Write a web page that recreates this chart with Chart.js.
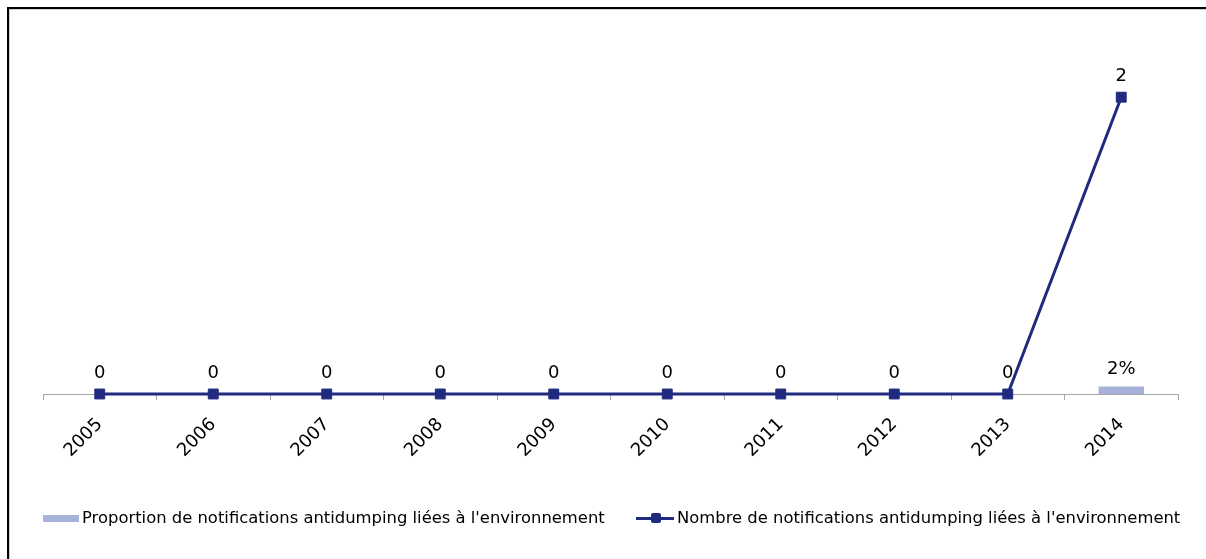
<!DOCTYPE html>
<html lang="fr">
<head>
<meta charset="utf-8">
<title>Notifications antidumping liées à l'environnement</title>
<script src="https://cdn.jsdelivr.net/npm/chart.js@4"></script>
<style>
  html, body { margin: 0; padding: 0; background: #fff; overflow: hidden; }
  body { width: 1206px; height: 559px; position: relative; font-family: "DejaVu Sans", Verdana, sans-serif; }
  .edge-top { position: absolute; left: 7px; top: 7px; width: 1199px; height: 2px; background: #000; }
  .edge-left { position: absolute; left: 7px; top: 7px; width: 2px; height: 552px; background: #000; }
  .edge-in-top { position: absolute; left: 9px; top: 9px; width: 1197px; height: 1px; background: #d0d0d0; }
  .edge-in-left { position: absolute; left: 9px; top: 9px; width: 1px; height: 550px; background: #d0d0d0; }
  #wrap { position: absolute; left: 0; top: 0; width: 1206px; height: 559px; }
  .legend { position: absolute; top: 508px; left: 0; width: 1206px; height: 20px; font-size: 16.4px; color: #000; }
  .item { position: absolute; top: 0; white-space: nowrap; line-height: 20px; }
  .sw-bar { position: absolute; top: 7px; width: 36px; height: 7px; background: #a6b2da; }
  .sw-line { position: absolute; top: 9px; width: 38px; height: 3px; background: #202b80; }
  .sw-dot { position: absolute; top: 5px; width: 10px; height: 10px; border-radius: 2px; background: #202b80; }
  .txt { position: absolute; top: 0; }
</style>
</head>
<body>
<div class="edge-top"></div>
<div class="edge-left"></div>
<div class="edge-in-top"></div>
<div class="edge-in-left"></div>
<div id="wrap"><canvas id="c" width="1206" height="559"></canvas></div>
<div class="legend">
  <div class="item" style="left:43px">
    <div class="sw-bar" style="left:0"></div>
    <div class="txt" id="lbl1" style="left:39px"></div>
  </div>
  <div class="item" style="left:636px">
    <div class="sw-line" style="left:0"></div>
    <div class="sw-dot" style="left:15px"></div>
    <div class="txt" id="lbl2" style="left:41px"></div>
  </div>
</div>
<script>
const years = ['2005', '2006', '2007', '2008', '2009', '2010', '2011', '2012', '2013', '2014'];
// share of environment-related antidumping notifications (fraction), only 2014 reported
const proportion = [null, null, null, null, null, null, null, null, null, 0.02];
// number of environment-related antidumping notifications
const nombre = [0, 0, 0, 0, 0, 0, 0, 0, 0, 2];
const seriesNames = [
  "Proportion de notifications antidumping liées à l'environnement",
  "Nombre de notifications antidumping liées à l'environnement"
];

document.getElementById('lbl1').textContent = seriesNames[0];
document.getElementById('lbl2').textContent = seriesNames[1];

const BAR = '#a6b2da';
const LINE = '#202b80';
const AXIS = '#a6a6a6';
const FONT = '"DejaVu Sans", Verdana, sans-serif';

// draws the value of each mark above it
const valueLabels = {
  id: 'valueLabels',
  afterDatasetsDraw(chart) {
    const ctx = chart.ctx;
    ctx.save();
    ctx.font = '18px ' + FONT;
    ctx.fillStyle = '#000';
    ctx.textAlign = 'center';
    ctx.textBaseline = 'middle';
    chart.data.datasets.forEach((ds, i) => {
      const meta = chart.getDatasetMeta(i);
      meta.data.forEach((el, j) => {
        const v = ds.data[j];
        if (v === null || v === undefined) return;
        const txt = ds.type === 'bar' ? Math.round(v * 100) + '%' : String(v);
        const y = ds.type === 'bar' ? el.y - 17 : el.y - 21;
        ctx.fillText(txt, el.x, y);
      });
    });
    ctx.restore();
  }
};

new Chart(document.getElementById('c'), {
  data: {
    labels: years,
    datasets: [
      {
        type: 'line',
        label: seriesNames[1],
        data: nombre,
        yAxisID: 'yCount',
        clip: false,
        borderColor: LINE,
        backgroundColor: LINE,
        borderWidth: 3,
        pointStyle: 'rect',
        pointRadius: 7,
        pointHoverRadius: 7,
        pointBorderWidth: 1,
        tension: 0,
        order: 0
      },
      {
        type: 'bar',
        label: seriesNames[0],
        data: proportion,
        yAxisID: 'yShare',
        backgroundColor: BAR,
        borderWidth: 0,
        barPercentage: 0.4,
        categoryPercentage: 1,
        order: 1
      }
    ]
  },
  options: {
    responsive: false,
    animation: false,
    devicePixelRatio: 1,
    layout: { padding: { left: 43, right: 28, top: 23, bottom: 0 } },
    plugins: { legend: { display: false }, tooltip: { enabled: false } },
    scales: {
      x: {
        offset: true,
        grid: { offset: true, drawOnChartArea: false, color: AXIS, tickLength: 6, lineWidth: 1 },
        border: { color: AXIS, width: 1 },
        ticks: { color: '#000', font: { family: FONT, size: 18 }, minRotation: 45, maxRotation: 45, padding: 14 },
        afterFit(scale) { scale.height = 165; }
      },
      yCount: {
        display: false,
        min: 0,
        max: 2.5
      },
      yShare: {
        display: false,
        position: 'right',
        min: 0,
        max: 1
      }
    }
  },
  plugins: [valueLabels]
});
</script>
</body>
</html>
